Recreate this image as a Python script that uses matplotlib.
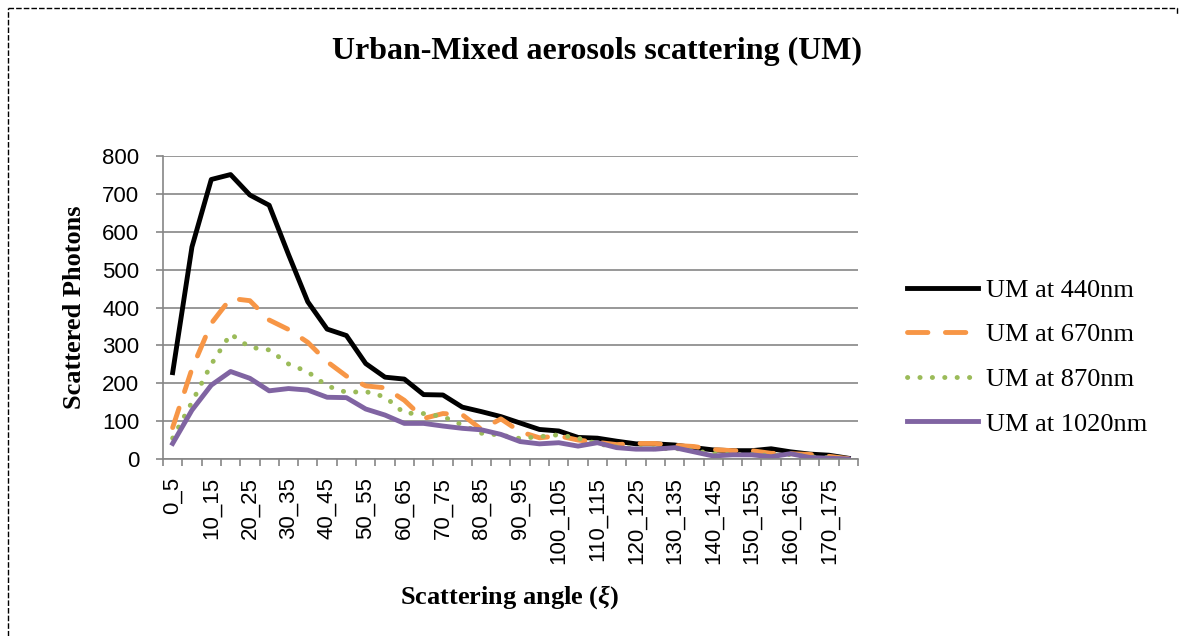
import matplotlib
matplotlib.use("Agg")
import matplotlib.pyplot as plt
from matplotlib.lines import Line2D
import numpy as np

# scattering angle bins 0_5 ... 175_180
edges = list(range(0, 185, 5))
cats = ["%d_%d" % (a, b) for a, b in zip(edges[:-1], edges[1:])]

um440 = [228, 560, 738, 751, 697, 670, 540, 415, 343, 326, 252, 216, 211, 170, 169, 137,
         125, 112, 95, 78, 74, 57, 55, 47, 40, 40, 37, 30, 24, 22, 22, 27, 19, 13, 10, 2]
um670 = [83, 238, 358, 424, 418, 367, 342, 308, 257, 219, 193, 188, 155, 107, 120, 117,
         78, 106, 72, 56, 61, 50, 44, 38, 41, 41, 36, 33, 25, 22, 22, 15, 14, 12, 7, 1]
um870 = [55, 150, 250, 330, 295, 288, 251, 230, 193, 176, 178, 164, 121, 120, 112, 90,
         68, 63, 54, 59, 64, 55, 40, 32, 28, 27, 28, 22, 14, 12, 12, 9, 12, 6, 3, 1]
um1020 = [41, 129, 195, 231, 213, 180, 186, 182, 163, 162, 132, 116, 94, 94, 87, 81,
          77, 65, 46, 40, 43, 34, 43, 30, 26, 26, 30, 19, 8, 11, 11, 6, 14, 4, 2, 0]

labels = ["UM at 440nm", "UM at 670nm", "UM at 870nm", "UM at 1020nm"]
yticks = list(range(0, 900, 100))

plt.rcParams['mathtext.fontset'] = 'custom'
plt.rcParams['mathtext.it'] = 'Liberation Serif:italic:bold'
plt.rcParams['mathtext.rm'] = 'Liberation Serif:bold'

W, H = 1187, 636
fig = plt.figure(figsize=(W / 100, H / 100), dpi=100)
ax = fig.add_axes([163 / W, 1 - 459 / H, (858 - 163) / W, (459 - 156) / H])

x = np.arange(len(cats))
gray = '#868686'
lw = 3.5
ax.plot(x, um440, color='black', lw=lw, label=labels[0], solid_joinstyle='round')
ax.plot(x, um670, color='#F79646', lw=lw, label=labels[1], linestyle=(0, (4.2, 3.6)),
        dash_capstyle='round')
ax.plot(x, um870, color='#9BBB59', lw=lw, label=labels[2], linestyle=(0, (0.05, 2.5)),
        dash_capstyle='round')
ax.plot(x, um1020, color='#8064A2', lw=lw, label=labels[3], solid_joinstyle='round')

ax.set_xlim(-0.5, len(cats) - 0.5)
ax.set_ylim(0, 800)
ax.set_yticks(yticks)
ax.yaxis.grid(True, color=gray, lw=1.2)
ax.set_axisbelow(True)

ax.set_xticks(x[::2])
ax.set_xticklabels(cats[::2], rotation=90, fontfamily='Liberation Sans', fontsize=16)
ax.set_xticks(np.arange(-0.5, len(cats)), minor=True)
ax.tick_params(axis='x', which='major', length=0, pad=13)
ax.tick_params(axis='x', which='minor', length=5, color=gray, width=1.2)
ax.tick_params(axis='y', length=5, color=gray, width=1.2, pad=12)
for t in ax.get_yticklabels():
    t.set_fontfamily('Liberation Sans')
    t.set_fontsize(16)

for s in ['top', 'right']:
    ax.spines[s].set_visible(False)
for s in ['left', 'bottom']:
    ax.spines[s].set_color(gray)
    ax.spines[s].set_linewidth(1.2)

fig.text(597 / W, 1 - 51 / H, "Urban-Mixed aerosols scattering (UM)", ha='center', va='center',
         fontfamily='Liberation Serif', fontweight='bold', fontsize=23)
fig.text(75 / W, 1 - 307 / H, "Scattered Photons", ha='center', va='center', rotation=90,
         fontfamily='Liberation Serif', fontweight='bold', fontsize=19)
fig.text(510 / W, 1 - 597 / H, r"Scattering angle ($\xi$)", ha='center', va='center',
         fontfamily='Liberation Serif', fontweight='bold', fontsize=19)

fig.legend(loc='center left', bbox_to_anchor=(907 / W, 1 - 357 / H), frameon=False,
           prop={'family': 'Liberation Serif', 'size': 19}, handlelength=2.7,
           handletextpad=0.3, labelspacing=0.8, borderpad=0, borderaxespad=0)

# dashed frame of the chart area
fig.add_artist(Line2D([8 / W, 8 / W], [0, 1 - 8 / H], transform=fig.transFigure,
                      color='black', lw=1, linestyle=(0, (4, 1.5))))
fig.add_artist(Line2D([8 / W, 1177 / W, 1177 / W], [1 - 8 / H, 1 - 8 / H, 1 - 14 / H],
                      transform=fig.transFigure, color='black', lw=1,
                      linestyle=(0, (4, 1.5))))

fig.savefig("out.png", dpi=100)
